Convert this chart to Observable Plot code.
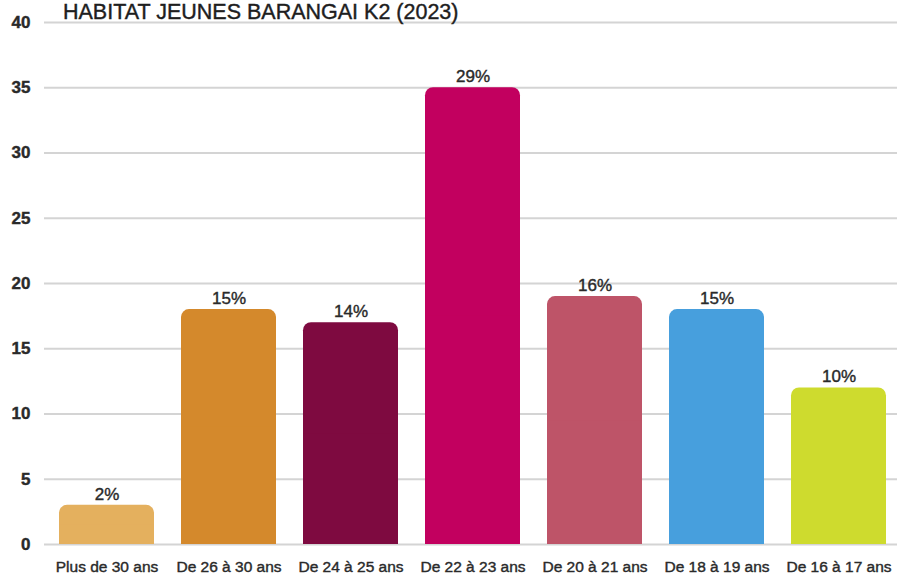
<!DOCTYPE html>
<html><head><meta charset="utf-8">
<script src="https://cdn.jsdelivr.net/npm/d3@7"></script>
<script src="https://cdn.jsdelivr.net/npm/@observablehq/plot@0.6"></script>
<style>
body{margin:0;background:#fff;overflow:hidden;font-family:"Liberation Sans",Arial,sans-serif}
#wrap{position:relative;width:897px;height:575px}
#title{position:absolute;left:63px;top:2px;font-size:21.5px;line-height:21.5px;color:#1e1e1e;white-space:nowrap;z-index:2;-webkit-text-stroke:0.4px #1e1e1e}
svg text{stroke:#2a2a2a;stroke-width:0.4px}
</style></head><body>
<div id="wrap"><div id="title">HABITAT JEUNES BARANGAI K2 (2023)</div></div>
<script>
const categories = ["Plus de 30 ans","De 26 à 30 ans","De 24 à 25 ans","De 22 à 23 ans","De 20 à 21 ans","De 18 à 19 ans","De 16 à 17 ans"];
const values = [3, 18, 17, 35, 19, 18, 12];
const percentLabels = ["2%","15%","14%","29%","16%","15%","10%"];
const colors = ["#E4B05E","#D4892C","#7E0A40","#C2005F","#BE5468","#479FDD","#CEDB2E"];
const yTicks = [0,5,10,15,20,25,30,35,40];

const data = categories.map((c, i) => ({category: c, value: values[i], label: percentLabels[i], color: colors[i]}));

const chart = Plot.plot({
  width: 897, height: 575,
  marginTop: 22, marginBottom: 31, marginLeft: 44, marginRight: 0,
  style: {fontFamily: "'Liberation Sans', Arial, sans-serif", background: "white", color: "#2a2a2a"},
  x: {domain: categories, range: [43.67, 902.33], paddingInner: 0.2174, paddingOuter: 0.1087, label: null},
  y: {domain: [0, 40], label: null},
  marks: [
    Plot.gridY(yTicks, {stroke: "#d4d4d4", strokeOpacity: 1, strokeWidth: 2}),
    Plot.axisY(yTicks, {tickSize: 0, tickPadding: 14, fontSize: 17, fontWeight: "bold", fill: "#2a2a2a", label: null}),
    Plot.axisX({tickSize: 0, tickPadding: 16, fontSize: 15.5, fill: "#2a2a2a", label: null}),
    Plot.barY(data, {x: "category", y: "value", fill: "color", rx: 8}),
    Plot.barY(data, {x: "category", y1: 0, y2: d => d.value / 2, fill: "color"}),
    Plot.text(data, {x: "category", y: "value", text: "label", dy: -11, fontSize: 17, fill: "#2a2a2a"})
  ]
});
document.getElementById("wrap").appendChild(chart);
</script>
</body></html>
